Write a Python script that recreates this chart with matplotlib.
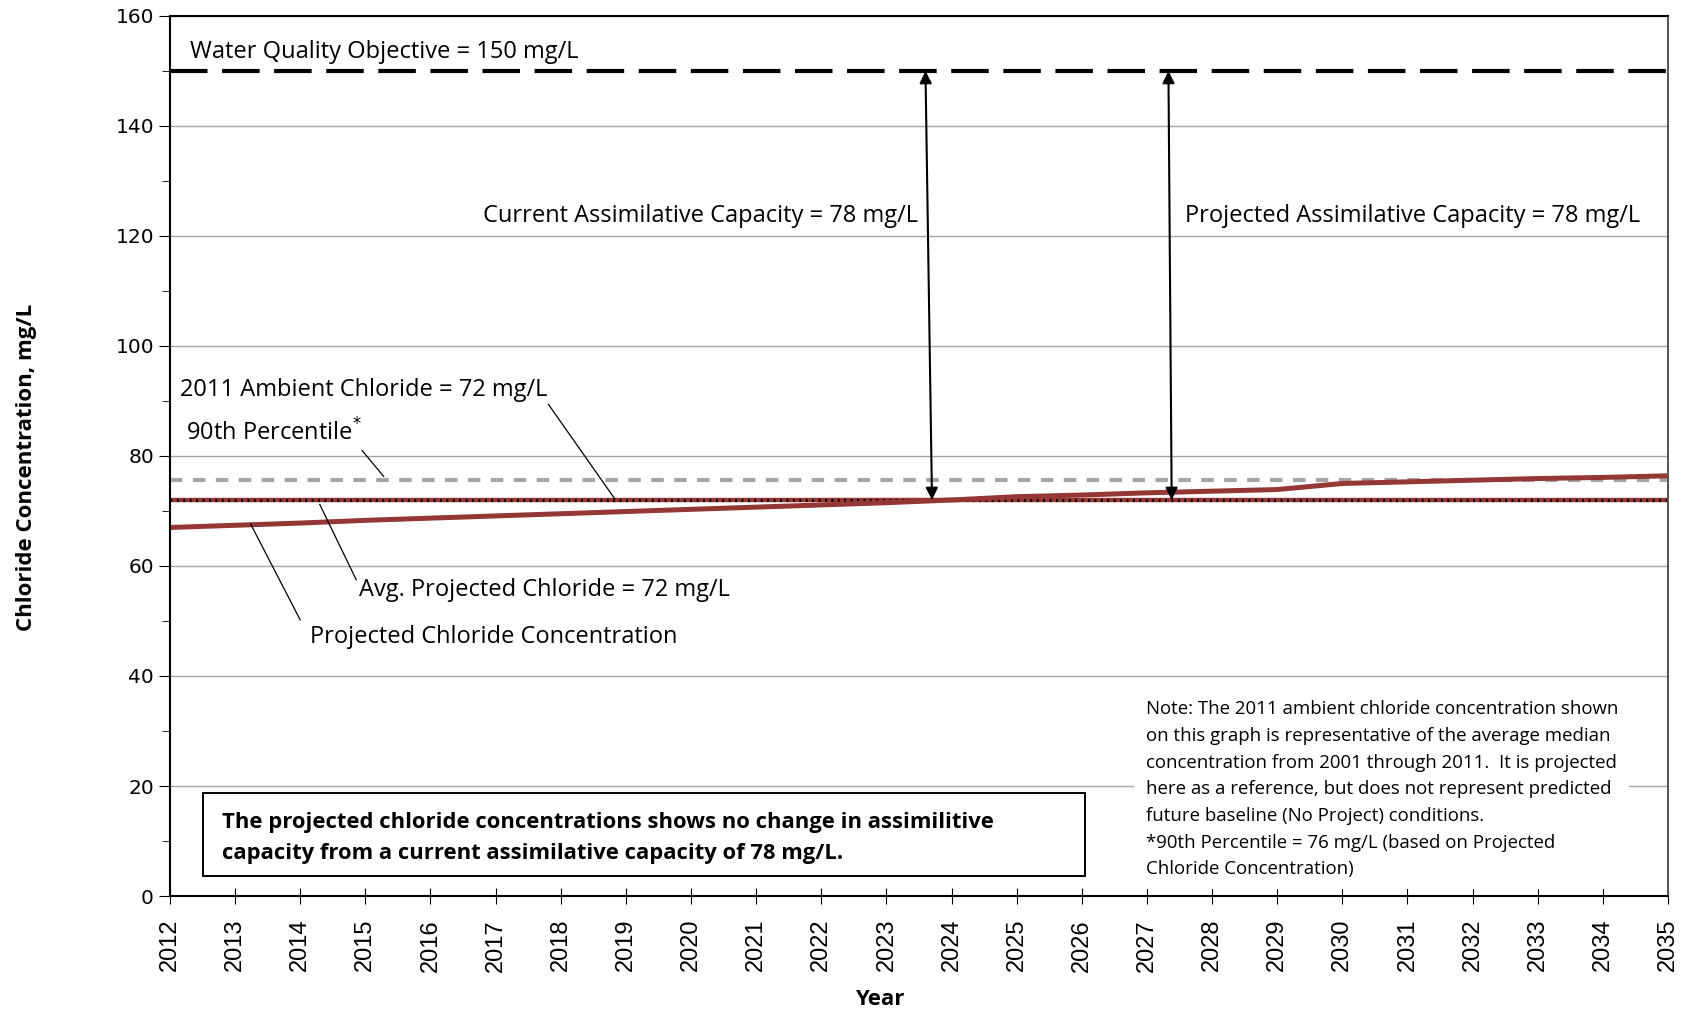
import numpy as np
import matplotlib.pyplot as plt
from matplotlib.ticker import MultipleLocator
from matplotlib.patches import Rectangle

plt.rcParams['font.family'] = ['Open Sans', 'DejaVu Sans']

years = list(range(2012, 2036))
projected = [67.0, 67.4, 67.8, 68.3, 68.7, 69.1, 69.5, 69.9, 70.3, 70.7, 71.1, 71.5,
             72.0, 72.6, 72.9, 73.3, 73.6, 73.9, 75.0, 75.3, 75.6, 75.9, 76.1, 76.4]
avg_projected = 72
ambient_2011 = 72
pct90 = 75.6
wqo = 150

fig = plt.figure(figsize=(16.91, 10.16), dpi=100)
ax = fig.add_axes([0.1005, 0.1181, 0.8859, 0.8662])

ax.set_xlim(2012, 2035)
ax.set_ylim(0, 160)
ax.yaxis.set_major_locator(MultipleLocator(20))
ax.yaxis.set_minor_locator(MultipleLocator(10))
ax.set_xticks(years)
ax.set_xticklabels([str(y) for y in years], rotation=90, family='Liberation Sans')
ax.tick_params(axis='x', direction='inout', length=11, labelsize=17, pad=11)
ax.tick_params(axis='y', which='major', direction='out', length=8, labelsize=14.5)
ax.tick_params(axis='y', which='minor', direction='out', length=6)
for lab in ax.get_yticklabels():
    lab.set_family('DejaVu Sans')
ax.grid(axis='y', which='major', color='#a6a6a6', linewidth=1)
ax.set_axisbelow(True)
for s in ['left', 'bottom', 'top']:
    ax.spines[s].set_color('black')
    ax.spines[s].set_linewidth(1.5)
ax.spines['right'].set_color('#595959')
ax.spines['right'].set_linewidth(1.5)

# reference lines
ax.plot([2012, 2035], [wqo, wqo], color='black', lw=3, dashes=(9, 3.5))
ax.plot([2012, 2035], [pct90, pct90], color='#a6a6a6', lw=3, dashes=(3, 2.5))
ax.plot([2012, 2035], [avg_projected, avg_projected], color='#953735', lw=3.2)
ax.plot([2012, 2035], [ambient_2011, ambient_2011], color='black', lw=2.2, dashes=(0.6, 1.5))
ax.plot(years, projected, color='#953735', lw=3.6)

# assimilative capacity arrows
arrow = dict(arrowstyle='<|-|>', color='black', lw=1.5, mutation_scale=18,
             shrinkA=0, shrinkB=0)
ax.annotate('', xy=(2023.6, wqo), xytext=(2023.7, ambient_2011), arrowprops=arrow)
ax.annotate('', xy=(2027.33, wqo), xytext=(2027.38, ambient_2011), arrowprops=arrow)

fs = 17
ax.text(2012.31, 153.5, 'Water Quality Objective = 150 mg/L', fontsize=fs, va='center')
ax.text(2016.8, 123.6, 'Current Assimilative Capacity = 78 mg/L', fontsize=fs, va='center')
ax.text(2027.59, 123.6, 'Projected Assimilative Capacity = 78 mg/L', fontsize=fs, va='center')
ax.text(2012.15, 92.0, '2011 Ambient Chloride = 72 mg/L', fontsize=fs, va='center')
ax.text(2012.25, 84.1, '90th Percentile$^{*}$', fontsize=fs, va='center')
ax.text(2014.91, 55.7, 'Avg. Projected Chloride = 72 mg/L', fontsize=fs, va='center')
ax.text(2014.15, 47.1, 'Projected Chloride Concentration', fontsize=fs, va='center')

# leader lines
leaders = [((2017.81, 89.4), (2018.83, 72.2)),
           ((2014.95, 81.0), (2015.28, 76.3)),
           ((2014.30, 71.2), (2014.86, 57.5)),
           ((2013.24, 67.6), (2014.0, 50.2))]
for (x0, y0), (x1, y1) in leaders:
    ax.plot([x0, x1], [y0, y1], color='black', lw=0.9)

# summary box
ax.add_patch(Rectangle((2012.51, 3.6), 13.54, 15.1, facecolor='white',
                       edgecolor='black', lw=1.4, zorder=3))
ax.text(2012.8, 10.5,
        'The projected chloride concentrations shows no change in assimilitive\n'
        'capacity from a current assimilative capacity of 78 mg/L.',
        fontsize=15.8, fontweight='bold', va='center', linespacing=1.65, zorder=4)

note = ('Note: The 2011 ambient chloride concentration shown\n'
        'on this graph is representative of the average median\n'
        'concentration from 2001 through 2011.  It is projected\n'
        'here as a reference, but does not represent predicted\n'
        'future baseline (No Project) conditions.\n'
        '*90th Percentile = 76 mg/L (based on Projected\n'
        'Chloride Concentration)')
ax.text(2026.98, 35.6, note, fontsize=13.4, va='top', linespacing=1.62,
        bbox=dict(boxstyle='square,pad=0.6', facecolor='white', edgecolor='none'))

ax.set_xlabel('Year', fontsize=16, fontweight='bold')
ax.xaxis.set_label_coords(0.4735, -0.106)
ax.set_ylabel('Chloride Concentration, mg/L', fontsize=16, fontweight='bold')
ax.yaxis.set_label_coords(-0.0886, 0.4875)

fig.text(0.52, 0.994, '2012 - 2035', fontsize=17, fontweight='bold', ha='center', va='bottom')

plt.savefig('out.png', dpi=100)
